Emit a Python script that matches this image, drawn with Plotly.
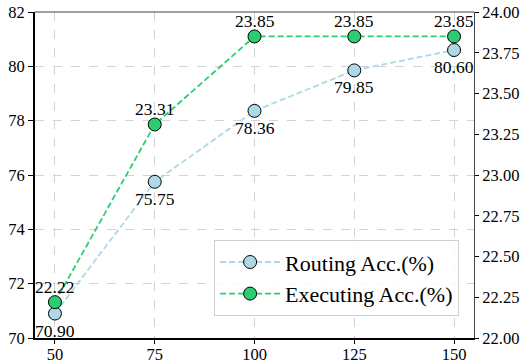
import plotly.graph_objects as go

x_vals = [50, 75, 100, 125, 150]
routing_acc = [70.90, 75.75, 78.36, 79.85, 80.60]
executing_acc = [22.22, 23.31, 23.85, 23.85, 23.85]
routing_labels = ["70.90", "75.75", "78.36", "79.85", "80.60"]
executing_labels = ["22.22", "23.31", "23.85", "23.85", "23.85"]
left_ticks = [70, 72, 74, 76, 78, 80, 82]
right_ticks = [22.00, 22.25, 22.50, 22.75, 23.00, 23.25, 23.50, 23.75, 24.00]

FONT = "Liberation Serif"
BLUE = "#add8e6"
GREEN = "#2ecc71"

fig = go.Figure()
fig.add_trace(go.Scatter(
    x=x_vals, y=routing_acc, mode="lines+markers",
    name="Routing Acc.(%)",
    line=dict(color=BLUE, width=1.8, dash="6px,3px"),
    marker=dict(size=13, color=BLUE, line=dict(color="black", width=1)),
    yaxis="y", cliponaxis=False,
))
fig.add_trace(go.Scatter(
    x=x_vals, y=executing_acc, mode="lines+markers",
    name="Executing Acc.(%)",
    line=dict(color=GREEN, width=1.8, dash="6px,3px"),
    marker=dict(size=13, color=GREEN, line=dict(color="black", width=1)),
    yaxis="y2", cliponaxis=False,
))

annotations = []
for xv, yv, lab in zip(x_vals, routing_acc, routing_labels):
    annotations.append(dict(x=xv, y=yv, xref="x", yref="y", text=lab, showarrow=False,
                            xanchor="center", yanchor="top", yshift=-5,
                            font=dict(family=FONT, size=17.5, color="black")))
for xv, yv, lab in zip(x_vals, executing_acc, executing_labels):
    annotations.append(dict(x=xv, y=yv, xref="x", yref="y2", text=lab, showarrow=False,
                            xanchor="center", yanchor="bottom", yshift=3,
                            font=dict(family=FONT, size=17.5, color="black")))

fig.update_layout(
    width=522, height=362,
    margin=dict(l=35, r=48, t=12, b=24, autoexpand=False),
    paper_bgcolor="white", plot_bgcolor="white",
    font=dict(family=FONT, size=16.5, color="black"),
    showlegend=True,
    legend=dict(
        x=0.408, y=0.300, xanchor="left", yanchor="top",
        bgcolor="rgba(255,255,255,0.85)", bordercolor="#d0d0d0", borderwidth=1,
        font=dict(family=FONT, size=22, color="black"),
        itemwidth=60, tracegroupgap=0,
    ),
    xaxis=dict(
        range=[45, 155], tickvals=x_vals, ticktext=[str(v) for v in x_vals],
        showline=True, linecolor="black", linewidth=2,
        ticks="outside", ticklen=4, tickcolor="black",
        showgrid=True, gridcolor="#d3d3d3", griddash="dash", gridwidth=0.8,
        zeroline=False, tickfont=dict(size=16.5), automargin=False,
        ticklabelstandoff=-4,
    ),
    yaxis=dict(
        range=[70, 82], tickvals=left_ticks, ticktext=[str(v) for v in left_ticks],
        showline=True, linecolor="black", linewidth=2,
        ticks="outside", ticklen=5, tickcolor="black",
        showgrid=True, gridcolor="#d3d3d3", griddash="dash", gridwidth=0.8,
        zeroline=False, tickfont=dict(size=16.5), automargin=False,
    ),
    yaxis2=dict(
        range=[22, 24], overlaying="y", side="right",
        tickvals=right_ticks, ticktext=[f"{v:.2f}" for v in right_ticks],
        showline=True, linecolor="#444444", linewidth=1,
        ticks="outside", ticklen=4, tickcolor="black",
        showgrid=False, zeroline=False, tickfont=dict(size=16.5), automargin=False,
    ),
    annotations=annotations,
    shapes=[dict(type="line", xref="paper", yref="paper", x0=0, x1=1, y0=1, y1=1,
                 line=dict(color="#444444", width=1))],
)

fig.write_html(
    "out.html",
    config={"displayModeBar": False},
    post_script="document.body.style.margin='0';document.documentElement.style.overflow='hidden';document.body.style.overflow='hidden';",
)
